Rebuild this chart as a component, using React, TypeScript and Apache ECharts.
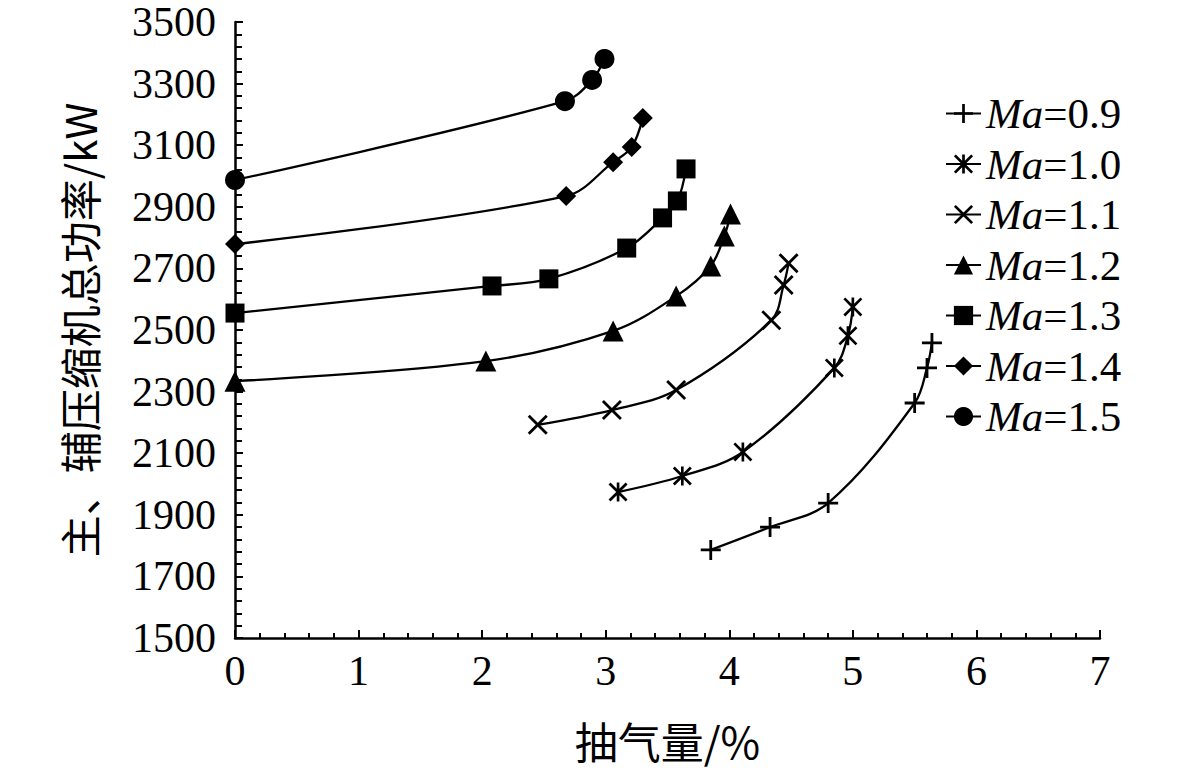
import React, { useEffect, useRef } from "react";
import * as echarts from "echarts";

// ---- data ----
const seriesNames = ["Ma=0.9", "Ma=1.0", "Ma=1.1", "Ma=1.2", "Ma=1.3", "Ma=1.4", "Ma=1.5"];

const ma09X = [3.85, 4.33, 4.8, 5.5, 5.6, 5.64];
const ma09Y = [1786, 1860, 1938, 2263, 2377, 2458];

const ma10X = [3.1, 3.62, 4.11, 4.85, 4.96, 5.0];
const ma10Y = [1974, 2026, 2104, 2377, 2481, 2575];

const ma11X = [2.45, 3.05, 3.57, 4.34, 4.44, 4.48];
const ma11Y = [2192, 2240, 2305, 2532, 2646, 2717];

const ma12X = [0, 2.03, 3.06, 3.57, 3.85, 3.96, 4.01];
const ma12Y = [2334, 2399, 2497, 2610, 2708, 2805, 2877];

const ma13X = [0, 2.08, 2.54, 3.17, 3.46, 3.58, 3.65];
const ma13Y = [2555, 2643, 2666, 2766, 2864, 2919, 3023];

const ma14X = [0, 2.68, 3.06, 3.21, 3.3];
const ma14Y = [2779, 2935, 3045, 3094, 3188];

const ma15X = [0, 2.67, 2.89, 2.99];
const ma15Y = [2987, 3243, 3312, 3380];

const xTicks = [0, 7, 1];
const yTicks = [1500, 3500, 200];

// ---- symbols ----
const PLUS = "path://M43,0L57,0L57,43L100,43L100,57L57,57L57,100L43,100L43,57L0,57L0,43L43,43Z";
const CROSS = "path://M0,10L10,0L50,40L90,0L100,10L60,50L100,90L90,100L50,60L10,100L0,90L40,50Z";
const STAR =
  "path://M0,10L10,0L50,40L90,0L100,10L60,50L100,90L90,100L50,60L10,100L0,90L40,50Z M43,0L57,0L57,100L43,100Z";

const SERIF = "Liberation Serif";
const CJK = "Noto Sans CJK SC";

function zip(xs: number[], ys: number[]) {
  return xs.map((x, i) => [x, ys[i]]);
}

export default function App() {
  const ref = useRef<HTMLDivElement>(null);
  useEffect(() => {
    if (!ref.current) return;
    const chart = echarts.init(ref.current, undefined, { renderer: "svg" });
    const defs = [
      { name: seriesNames[0], data: zip(ma09X, ma09Y), symbol: PLUS, size: 20 },
      { name: seriesNames[1], data: zip(ma10X, ma10Y), symbol: STAR, size: 19 },
      { name: seriesNames[2], data: zip(ma11X, ma11Y), symbol: CROSS, size: 20 },
      { name: seriesNames[3], data: zip(ma12X, ma12Y), symbol: "triangle", size: 21 },
      { name: seriesNames[4], data: zip(ma13X, ma13Y), symbol: "rect", size: 19 },
      { name: seriesNames[5], data: zip(ma14X, ma14Y), symbol: "diamond", size: 20 },
      { name: seriesNames[6], data: zip(ma15X, ma15Y), symbol: "circle", size: 20 },
    ];
    const FS_L = 43;
    chart.setOption({
      animation: false,
      backgroundColor: "#ffffff",
      grid: { left: 235, right: 81, top: 22, bottom: 132, containLabel: false },
      legend: {
        orient: "vertical",
        left: 940,
        top: 87,
        itemWidth: 35,
        itemHeight: 24,
        itemGap: 50.5 - FS_L,
        data: seriesNames,
        formatter: (name: string) => `{i|Ma}{n|=${name.split("=")[1]}}`,
        textStyle: {
          color: "#000",
          fontFamily: SERIF,
          fontSize: FS_L,
          lineHeight: FS_L,
          rich: {
            i: { fontStyle: "italic", fontFamily: SERIF, fontSize: FS_L, color: "#000", lineHeight: FS_L },
            n: { fontFamily: SERIF, fontSize: FS_L, color: "#000", lineHeight: FS_L },
          },
        },
      },
      xAxis: {
        type: "value",
        min: xTicks[0],
        max: xTicks[1],
        interval: xTicks[2],
        name: "抽气量/%",
        nameLocation: "middle",
        nameGap: 80,
        nameTextStyle: { color: "#000", fontFamily: CJK, fontSize: 43 },
        axisLine: { show: true, onZero: false, lineStyle: { color: "#000", width: 2.5 } },
        axisTick: { show: true, inside: true, length: 8, lineStyle: { color: "#000", width: 2 } },
        minorTick: { show: true, splitNumber: 5, length: 5, lineStyle: { color: "#000", width: 2 } },
        splitLine: { show: false },
        axisLabel: { color: "#000", fontFamily: SERIF, fontSize: 42, margin: 12 },
      },
      yAxis: {
        type: "value",
        min: yTicks[0],
        max: yTicks[1],
        interval: yTicks[2],
        name: "主、辅压缩机总功率/kW",
        nameLocation: "middle",
        nameGap: 136,
        nameRotate: 90,
        nameTextStyle: { color: "#000", fontFamily: CJK, fontSize: 42 },
        axisLine: { show: true, onZero: false, lineStyle: { color: "#000", width: 2.5 } },
        axisTick: { show: true, inside: true, length: 8, lineStyle: { color: "#000", width: 2 } },
        minorTick: { show: true, splitNumber: 5, length: 7, lineStyle: { color: "#000", width: 2 } },
        splitLine: { show: false },
        axisLabel: {
          color: "#000",
          fontFamily: SERIF,
          fontSize: 42,
          margin: 19,
          formatter: (v: number) => String(v),
        },
      },
      series: defs.map((d) => ({
        type: "line",
        name: d.name,
        data: d.data,
        smooth: 0.35,
        symbol: d.symbol,
        symbolSize: d.size,
        showAllSymbol: true,
        clip: false,
        lineStyle: { color: "#000", width: 2.3 },
        itemStyle: { color: "#000", borderWidth: 0 },
        color: "#000",
      })),
    });
    return () => chart.dispose();
  }, []);
  return (
    <div
      ref={ref}
      style={{ position: "fixed", left: 0, top: 0, width: 1181, height: 770, background: "#fff" }}
    />
  );
}
